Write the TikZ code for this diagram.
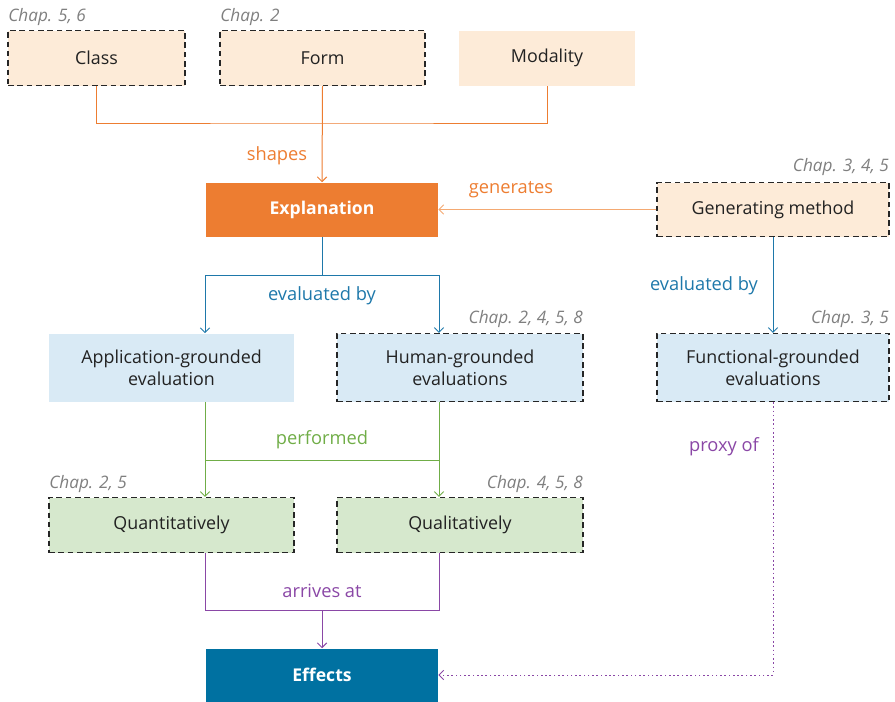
\documentclass[tikz,border=0pt]{standalone}
\usepackage{fontspec}
\setmainfont{Open Sans}
\usetikzlibrary{arrows.meta}
\definecolor{peach}{HTML}{FDEBD8}
\definecolor{lblue}{HTML}{D9EAF5}
\definecolor{lgreen}{HTML}{D6E8CD}
\definecolor{orng}{HTML}{ED7D31}
\definecolor{lorng}{HTML}{F4A972}
\definecolor{effblue}{HTML}{0071A1}
\definecolor{cblue}{HTML}{1E78AA}
\definecolor{cgreen}{HTML}{70AD47}
\definecolor{cpurple}{HTML}{8A47A6}
\definecolor{chapgray}{HTML}{7F7F7F}
\definecolor{txt}{HTML}{222222}
\tikzset{
  box/.style={rectangle, minimum height=#1*0.75pt, inner sep=0pt, align=center, text=txt, font=\fontsize{13.4}{16.5}\selectfont},
  dbox/.style={draw=black!85, line width=0.8pt, dash pattern=on 4.2pt off 2.8pt},
  chap/.style={font=\fontsize{12.9}{15}\selectfont\itshape, text=chapgray, inner sep=0pt},
  lbl/.style={font=\fontsize{13.7}{16}\selectfont, inner sep=0pt},
  conn/.style={line width=0.75pt},
  arr/.style={-{Straight Barb[length=3.5pt,width=7pt]}},
}
\begin{document}
\begin{tikzpicture}[x=0.75pt,y=-0.75pt]
\useasboundingbox (0,0) rectangle (895,701);
% boxes
\node[box=55, dbox, fill=peach, minimum width=177*0.75pt] (class) at (96.5,58) {Class};
\node[box=55, dbox, fill=peach, minimum width=205*0.75pt] (form) at (322.5,58) {Form};
\node[box=55, fill=peach, minimum width=176*0.75pt] (modality) at (547,58) {Modality};
\node[box=54, fill=orng, minimum width=232*0.75pt, text=white, font=\fontsize{13.2}{16}\selectfont\bfseries] (expl) at (322,209.5) {Explanation};
\node[box=54, dbox, fill=peach, minimum width=232*0.75pt] (gen) at (773,209.5) {Generating method};
\node[box=68, fill=lblue, minimum width=245*0.75pt] (app) at (171.5,367.5) {Application-grounded\\evaluation};
\node[box=68, dbox, fill=lblue, minimum width=246*0.75pt] (hum) at (460,367.5) {Human-grounded\\evaluations};
\node[box=68, dbox, fill=lblue, minimum width=232*0.75pt] (func) at (773,367.5) {Functional-grounded\\evaluations};
\node[box=55, dbox, fill=lgreen, minimum width=245*0.75pt] (quant) at (171.5,525) {Quantitatively};
\node[box=55, dbox, fill=lgreen, minimum width=246*0.75pt] (qual) at (460,525) {Qualitatively};
\node[box=53, fill=effblue, minimum width=232*0.75pt, text=white, font=\fontsize{13.2}{16}\selectfont\bfseries] (eff) at (322,675) {Effects};
% chapter labels
\node[chap, anchor=west] (c1) at (8,17) {Chap. 5, 6};
\node[chap, anchor=west] (c2) at (220,17) {Chap. 2};
\node[chap, anchor=east] (c3) at (889,167) {Chap. 3, 4, 5};
\node[chap, anchor=east] (c4) at (583,319) {Chap. 2, 4, 5, 8};
\node[chap, anchor=east] (c5) at (889,319) {Chap. 3, 5};
\node[chap, anchor=west] (c6) at (49,484) {Chap. 2, 5};
\node[chap, anchor=east] (c7) at (583,484) {Chap. 4, 5, 8};
% shapes
\coordinate (sh) at (322,123);
\draw[conn, orng] (class.south -| 96,0) |- (sh) -| (modality.south);
\draw[conn, orng, arr] (form.south) -- (expl.north);
\node[lbl, text=orng] (shl) at (277,156) {shapes};
% generates
\draw[conn, lorng, arr] (gen.west) -- (expl.east);
\node[lbl, text=orng] (genl) at (511,190) {generates};
% evaluated by
\coordinate (ev) at (322,275);
\draw[conn, cblue] (expl.south) -- (ev);
\draw[conn, cblue, arr] (ev) -| (app.north -| 205,0);
\draw[conn, cblue, arr] (ev) -| (hum.north -| 439,0);
\node[lbl, text=cblue] (evl) at (322,296) {evaluated by};
\draw[conn, cblue, arr] (gen.south) -- (func.north);
\node[lbl, text=cblue] (evl2) at (704,286) {evaluated by};
% performed
\draw[conn, cgreen, arr] (app.south -| 205,0) -- (quant.north -| 205,0);
\draw[conn, cgreen, arr] (hum.south -| 439,0) -- (qual.north -| 439,0);
\draw[conn, cgreen] (205,460) -- (439,460);
\node[lbl, text=cgreen] (pfl) at (322,440) {performed};
% arrives at
\coordinate (ar) at (322,610);
\draw[conn, cpurple] (quant.south -| 205,0) |- (ar) -| (qual.south -| 439,0);
\draw[conn, cpurple, arr] (ar) -- (eff.north);
\node[lbl, text=cpurple] (arl) at (322,591) {arrives at};
% proxy of
\draw[conn, cpurple, dash pattern=on 1.2pt off 2pt, arr] (func.south) |- (eff.east);
\node[lbl, text=cpurple] (pxl) at (724,447) {proxy of};
\end{tikzpicture}
\end{document}
